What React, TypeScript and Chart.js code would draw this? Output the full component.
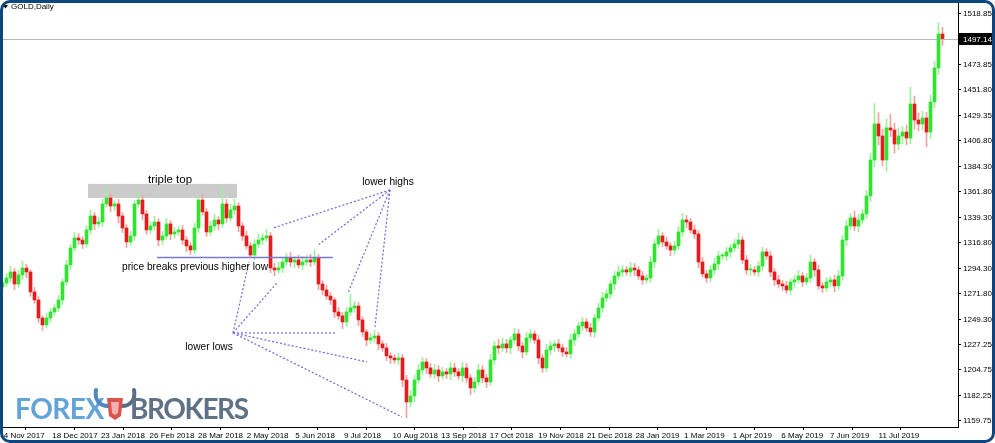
import React, { useEffect, useRef } from 'react';
import { Chart, registerables } from 'chart.js';

Chart.register(...registerables);

// ---------- data (GOLD, Daily, one candle ≈ two sessions) ----------
const firstOpen = 1278.0;

const closes = [
  1281.5, 1285.9, 1291.2, 1280.6, 1288.6, 1294.7, 1291.2, 1273.6, 1266.5, 1250.6,
  1244.5, 1250.6, 1255.9, 1259.5, 1266.5, 1282.4, 1297.4, 1312.4, 1321.2, 1319.4,
  1315.9, 1328.3, 1340.6, 1333.6, 1335.3, 1351.2, 1356.5, 1349.4, 1351.2, 1340.6,
  1330.0, 1317.7, 1323.0, 1351.2, 1354.7, 1342.4, 1328.3, 1331.8, 1335.3, 1319.4,
  1323.0, 1333.6, 1324.7, 1326.5, 1328.3, 1319.4, 1314.2, 1310.6, 1330.0, 1354.7,
  1344.2, 1326.5, 1331.8, 1337.1, 1333.6, 1351.2, 1338.9, 1345.9, 1349.4, 1331.8,
  1323.0, 1314.2, 1306.2, 1315.9, 1319.4, 1321.2, 1323.0, 1294.7, 1293.0, 1294.7,
  1300.0, 1303.6, 1300.0, 1301.8, 1297.4, 1300.0, 1301.8, 1300.0, 1303.6, 1280.6,
  1275.3, 1270.0, 1266.5, 1255.9, 1252.4, 1247.1, 1255.9, 1259.5, 1261.2, 1248.9,
  1238.3, 1231.2, 1233.0, 1234.7, 1227.7, 1224.2, 1217.1, 1215.3, 1213.6, 1215.3,
  1195.9, 1176.5, 1181.8, 1195.9, 1204.7, 1211.8, 1206.5, 1201.2, 1204.7, 1199.5,
  1203.0, 1201.2, 1206.5, 1203.0, 1199.5, 1206.5, 1197.7, 1188.9, 1194.2, 1204.7,
  1197.7, 1194.2, 1213.6, 1225.9, 1224.2, 1227.7, 1224.2, 1231.2, 1236.5, 1225.9,
  1220.6, 1233.0, 1236.5, 1231.2, 1215.3, 1206.5, 1222.4, 1225.9, 1227.7, 1224.2,
  1220.6, 1218.9, 1231.2, 1236.5, 1243.6, 1247.1, 1241.8, 1238.3, 1250.6, 1259.5,
  1268.3, 1271.8, 1280.6, 1287.7, 1291.2, 1293.0, 1291.2, 1294.7, 1293.0, 1287.7,
  1284.2, 1285.9, 1300.0, 1315.9, 1323.0, 1317.7, 1314.2, 1310.6, 1314.2, 1326.5,
  1337.1, 1335.3, 1328.3, 1324.7, 1300.0, 1289.5, 1285.9, 1293.0, 1298.3, 1305.3,
  1305.3, 1308.9, 1312.4, 1315.9, 1319.4, 1301.8, 1293.0, 1293.0, 1291.2, 1296.5,
  1308.9, 1305.3, 1291.2, 1284.2, 1280.6, 1278.9, 1275.3, 1282.4, 1284.2, 1287.7,
  1282.4, 1285.9, 1300.0, 1293.0, 1278.9, 1277.1, 1282.4, 1284.2, 1278.9, 1287.7,
  1319.4, 1331.8, 1338.9, 1331.8, 1337.1, 1342.4, 1358.3, 1390.0, 1421.8, 1411.2,
  1390.0, 1418.3, 1416.5, 1404.1, 1411.2, 1414.7, 1409.4, 1439.4, 1425.3, 1421.8,
  1427.1, 1414.7, 1441.2, 1471.2, 1501.2, 1497.14,
];

const upperWick = [
  3, 4, 5, 3, 4, 6, 3, 2, 4, 3,
  2, 4, 3, 3, 4, 3, 4, 3, 5, 4,
  3, 4, 5, 3, 4, 4, 10, 4, 3, 4,
  3, 3, 4, 3, 8, 4, 3, 4, 5, 3,
  4, 5, 3, 4, 3, 4, 3, 3, 4, 3,
  5, 3, 4, 5, 3, 15, 4, 5, 6, 3,
  3, 4, 3, 4, 5, 4, 6, 3, 4, 5,
  3, 4, 5, 3, 4, 5, 4, 5, 7, 3,
  3, 4, 3, 2, 4, 3, 4, 12, 4, 3,
  3, 2, 4, 5, 3, 3, 4, 3, 3, 4,
  3, 4, 5, 4, 5, 4, 3, 4, 5, 4,
  4, 3, 5, 4, 3, 5, 4, 3, 4, 5,
  4, 3, 5, 4, 6, 5, 4, 3, 5, 4,
  3, 5, 4, 3, 4, 3, 5, 4, 3, 4,
  3, 4, 5, 4, 3, 4, 3, 4, 3, 4,
  5, 4, 3, 4, 5, 4, 3, 5, 4, 3,
  4, 3, 5, 4, 6, 3, 4, 3, 4, 5,
  6, 4, 3, 4, 3, 4, 3, 4, 5, 4,
  3, 4, 3, 4, 6, 3, 4, 5, 3, 4,
  4, 3, 4, 3, 4, 3, 4, 3, 4, 5,
  3, 4, 6, 3, 4, 3, 4, 3, 4, 5,
  4, 5, 4, 6, 5, 4, 5, 6, 18, 10,
  6, 8, 12, 6, 7, 5, 6, 15, 7, 6,
  6, 5, 6, 6, 10, 6,
];

const lowerWick = [
  4, 3, 4, 5, 3, 4, 5, 4, 3, 4,
  5, 3, 4, 3, 3, 4, 3, 4, 3, 4,
  4, 3, 4, 5, 3, 4, 3, 5, 4, 6,
  4, 5, 3, 4, 3, 5, 4, 3, 4, 5,
  4, 3, 5, 4, 3, 4, 5, 4, 3, 4,
  3, 4, 3, 4, 5, 3, 4, 3, 4, 5,
  4, 3, 2, 4, 3, 4, 3, 4, 5, 3,
  4, 3, 4, 5, 3, 4, 3, 4, 3, 5,
  4, 3, 4, 5, 3, 6, 4, 3, 4, 5,
  4, 5, 3, 4, 5, 3, 4, 5, 3, 4,
  6, 14, 4, 5, 3, 4, 5, 3, 4, 5,
  3, 4, 5, 4, 3, 5, 4, 6, 4, 3,
  4, 5, 3, 4, 5, 3, 4, 5, 3, 4,
  5, 3, 4, 3, 5, 4, 3, 4, 5, 3,
  4, 3, 4, 5, 3, 4, 3, 4, 5, 3,
  4, 3, 4, 5, 3, 4, 3, 4, 5, 3,
  4, 3, 4, 5, 3, 4, 3, 5, 4, 3,
  4, 5, 3, 4, 5, 3, 4, 3, 4, 5,
  3, 4, 5, 3, 4, 3, 4, 5, 3, 4,
  4, 3, 4, 5, 3, 4, 3, 4, 5, 3,
  4, 3, 4, 5, 3, 4, 3, 4, 5, 3,
  4, 5, 3, 4, 5, 3, 4, 5, 6, 8,
  5, 10, 6, 8, 5, 7, 6, 5, 8, 6,
  5, 13, 6, 5, 6, 6,
];

const dateLabels = [
  '4 Nov 2017', '18 Dec 2017', '23 Jan 2018', '26 Feb 2018', '28 Mar 2018', '2 May 2018',
  '5 Jun 2018', '9 Jul 2018', '10 Aug 2018', '13 Sep 2018', '17 Oct 2018', '19 Nov 2018',
  '21 Dec 2018', '28 Jan 2019', '1 Mar 2019', '1 Apr 2019', '6 May 2019', '7 Jun 2019', '11 Jul 2019',
];
const dateTickIndex = [
  -0.25, 11.9, 24.05, 36.2, 48.35, 60.5, 72.65, 84.8, 96.95, 109.1,
  121.25, 133.4, 145.55, 157.7, 169.85, 182, 194.15, 206.3, 218.45,
];

const priceTicks = [
  1518.85, 1473.85, 1451.8, 1429.35, 1406.8, 1384.3, 1361.8, 1339.3, 1316.8,
  1294.3, 1271.8, 1249.3, 1227.25, 1204.75, 1182.25, 1159.75,
];
const lastPrice = 1497.14;
const symbolTitle = 'GOLD,Daily';

// annotations (candle index, price)
const tripleTopBox = { from: 21.375, to: 58.625, low: 1356.5, high: 1368.9 };
const tripleTopLabel = { text: 'triple top', x: 41.875, y: 1369.7 };
const breakLine = { from: 38.625, to: 82.625, price: 1304.0 };
const breakLabel = { text: 'price breaks previous higher low', x: 29.875, y: 1293.0 };
const lowerHighsApex = { x: 96.875, y: 1363.6 };
const lowerHighsTargets = [
  { x: 67.625, y: 1330.0 }, { x: 78.875, y: 1315.0 }, { x: 86.375, y: 1272.7 }, { x: 93.125, y: 1242.7 },
];
const lowerHighsLabel = { text: 'lower highs', x: 96.375, y: 1368.0 };
const lowerLowsApex = { x: 57.625, y: 1237.4 };
const lowerLowsTargets = [
  { x: 61.625, y: 1300.0 }, { x: 68.875, y: 1282.4 }, { x: 83.125, y: 1237.4 },
  { x: 91.125, y: 1211.8 }, { x: 99.875, y: 1163.3 },
];
const lowerLowsLabel = { text: 'lower lows', x: 51.625, y: 1222.4 };

const BULL = '#2fe52f';
const BEAR = '#e51c1c';
const BULL_WICK = '#9ef09e';
const BEAR_WICK = '#f2a0a0';
const FONT = '"Liberation Sans", Arial, sans-serif';

const annotationPlugin = {
  id: 'annotations',
  beforeDatasetsDraw(chart: any) {
    const { ctx, scales, chartArea } = chart;
    const x = scales.x, y = scales.y;
    ctx.save();
    ctx.fillStyle = '#cbcbcb';
    const bx0 = x.getPixelForValue(tripleTopBox.from);
    const bx1 = x.getPixelForValue(tripleTopBox.to);
    const by0 = y.getPixelForValue(tripleTopBox.high);
    const by1 = y.getPixelForValue(tripleTopBox.low);
    ctx.fillRect(bx0, by0, bx1 - bx0, by1 - by0);
    const py = Math.round(y.getPixelForValue(lastPrice)) + 0.5;
    ctx.strokeStyle = '#b8b8b8';
    ctx.lineWidth = 1;
    ctx.beginPath();
    ctx.moveTo(chartArea.left, py);
    ctx.lineTo(chartArea.right, py);
    ctx.stroke();
    ctx.restore();
  },
  afterDatasetsDraw(chart: any) {
    const { ctx, scales } = chart;
    const x = scales.x, y = scales.y;
    const px = (v: number) => x.getPixelForValue(v);
    const pyv = (v: number) => y.getPixelForValue(v);
    ctx.save();
    ctx.strokeStyle = '#7878d2';
    ctx.lineWidth = 1.5;
    ctx.beginPath();
    ctx.moveTo(px(breakLine.from), pyv(breakLine.price));
    ctx.lineTo(px(breakLine.to), pyv(breakLine.price));
    ctx.stroke();
    ctx.strokeStyle = '#6a6ade';
    ctx.lineWidth = 1.2;
    ctx.setLineDash([2, 2]);
    const fan = (apex: any, targets: any[]) => {
      targets.forEach((t) => {
        ctx.beginPath();
        ctx.moveTo(px(apex.x), pyv(apex.y));
        ctx.lineTo(px(t.x), pyv(t.y));
        ctx.stroke();
      });
    };
    fan(lowerHighsApex, lowerHighsTargets);
    fan(lowerLowsApex, lowerLowsTargets);
    ctx.setLineDash([]);
    ctx.fillStyle = '#000';
    ctx.textBaseline = 'alphabetic';
    ctx.font = `11.5px ${FONT}`;
    ctx.textAlign = 'center';
    ctx.fillText(tripleTopLabel.text, px(tripleTopLabel.x), pyv(tripleTopLabel.y));
    ctx.font = `10.2px ${FONT}`;
    ctx.textAlign = 'left';
    ctx.fillText(breakLabel.text, px(breakLabel.x), pyv(breakLabel.y));
    ctx.textAlign = 'center';
    ctx.fillText(lowerHighsLabel.text, px(lowerHighsLabel.x), pyv(lowerHighsLabel.y));
    ctx.fillText(lowerLowsLabel.text, px(lowerLowsLabel.x), pyv(lowerLowsLabel.y));
    ctx.restore();
  },
  afterDraw(chart: any) {
    const { ctx, scales, chartArea } = chart;
    const y = scales.y;
    ctx.save();
    const py = Math.round(y.getPixelForValue(lastPrice));
    ctx.fillStyle = '#000';
    ctx.fillRect(chartArea.right + 1, py - 6, 35, 12);
    ctx.fillStyle = '#fff';
    ctx.font = `8px ${FONT}`;
    ctx.textAlign = 'left';
    ctx.textBaseline = 'middle';
    ctx.fillText(lastPrice.toFixed(2), chartArea.right + 5, py + 0.5);
    ctx.fillStyle = '#000';
    ctx.beginPath();
    ctx.moveTo(3, 5);
    ctx.lineTo(8, 5);
    ctx.lineTo(5.5, 8.5);
    ctx.closePath();
    ctx.fill();
    ctx.textBaseline = 'middle';
    ctx.fillText(symbolTitle, 11, 7);
    ctx.restore();
  },
};

export default function App() {
  const canvasRef = useRef<HTMLCanvasElement | null>(null);

  useEffect(() => {
    const canvas = canvasRef.current;
    if (!canvas) return;
    const opens = closes.map((c, i) => (i === 0 ? firstOpen : closes[i - 1]));
    const rising = closes.map((c, i) => c >= opens[i]);
    const bodies = closes.map((c, i) => ({ x: i, y: [opens[i], c] }));
    const wicks = closes.map((c, i) => ({
      x: i,
      y: [Math.min(opens[i], c) - lowerWick[i], Math.max(opens[i], c) + upperWick[i]],
    }));

    const tickFont = { family: FONT, size: 8 };
    const chart = new Chart(canvas, {
      type: 'bar',
      data: {
        datasets: [
          {
            data: bodies as any,
            backgroundColor: rising.map((r) => (r ? BULL : BEAR)),
            barThickness: 3,
            minBarLength: 1,
            grouped: false,
            borderWidth: 0,
          } as any,
          {
            data: wicks as any,
            backgroundColor: rising.map((r) => (r ? BULL_WICK : BEAR_WICK)),
            barThickness: 1,
            grouped: false,
            borderWidth: 0,
          } as any,
        ],
      },
      options: {
        animation: false,
        responsive: false,
        devicePixelRatio: 1,
        layout: { padding: 0 },
        events: [],
        plugins: { legend: { display: false }, tooltip: { enabled: false } },
        scales: {
          x: {
            type: 'linear',
            min: -0.625,
            max: 238.875,
            offset: false,
            grid: { drawOnChartArea: false, drawTicks: true, tickLength: 3, color: '#000', lineWidth: 1 },
            border: { display: true, color: '#000', width: 1 },
            ticks: {
              autoSkip: false,
              maxRotation: 0,
              minRotation: 0,
              align: 'start',
              padding: 1,
              color: '#000',
              font: tickFont,
              callback: (_v: any, i: number) => (dateLabels[i] ? ' ' + dateLabels[i] : ''),
            },
            afterBuildTicks: (s: any) => {
              s.ticks = dateTickIndex.map((v) => ({ value: v }));
            },
            afterFit: (s: any) => {
              s.height = 16;
              s.paddingLeft = 0;
              s.paddingRight = 0;
            },
          } as any,
          y: {
            type: 'linear',
            position: 'right',
            min: 1154.4,
            max: 1531.2,
            grid: { drawOnChartArea: false, drawTicks: true, tickLength: 3, color: '#000', lineWidth: 1 },
            border: { display: true, color: '#000', width: 1 },
            ticks: {
              padding: 2,
              color: '#000',
              font: tickFont,
              callback: (v: any) => Number(v).toFixed(2),
            },
            afterBuildTicks: (s: any) => {
              s.ticks = priceTicks.map((v) => ({ value: v }));
            },
            afterFit: (s: any) => {
              s.width = 37;
              s.paddingTop = 0;
              s.paddingBottom = 0;
            },
          } as any,
        },
      },
      plugins: [annotationPlugin],
    });
    return () => chart.destroy();
  }, []);

  return (
    <div style={{ position: 'fixed', left: 0, top: 0, width: 995, height: 443, background: '#fff', overflow: 'hidden' }}>
      <canvas ref={canvasRef} width={995} height={443} style={{ position: 'absolute', left: 0, top: 0, width: 995, height: 443 }} />
      <div
        style={{
          position: 'absolute', left: 15, top: 394, height: 28, lineHeight: '28px',
          fontFamily: 'Lato, "Open Sans", sans-serif', fontWeight: 700, fontSize: 28, whiteSpace: 'nowrap',
        }}
      >
        <span style={{ color: '#62a3d8', letterSpacing: -0.5 }}>FOREX</span>
      </div>
      <svg style={{ position: 'absolute', left: 92, top: 386, width: 46, height: 36 }} viewBox="0 0 46 36">
        <path d="M4 4 C2 14 8 20 16 20" stroke="#4f86bd" strokeWidth="4" fill="none" strokeLinecap="round" />
        <path d="M42 4 C44 14 38 20 30 20" stroke="#5a6e82" strokeWidth="4" fill="none" strokeLinecap="round" />
        <path d="M15 12 L31 12 L29 30 L23 34 L17 30 Z" fill="#d9534f" />
        <path d="M19 16 L27 16 L26 27 L23 29 L20 27 Z" fill="#f3b0b0" />
      </svg>
      <div
        style={{
          position: 'absolute', left: 130, top: 394, height: 28, lineHeight: '28px',
          fontFamily: 'Lato, "Open Sans", sans-serif', fontWeight: 700, fontSize: 28, whiteSpace: 'nowrap',
        }}
      >
        <span style={{ color: '#5f7285', letterSpacing: -1.4 }}>BROKERS</span>
      </div>
      <div
        style={{
          position: 'absolute', left: 0, top: 0, width: 995, height: 443, boxSizing: 'border-box',
          border: '3px solid #0f457d', borderRadius: 10, pointerEvents: 'none',
        }}
      />
    </div>
  );
}
